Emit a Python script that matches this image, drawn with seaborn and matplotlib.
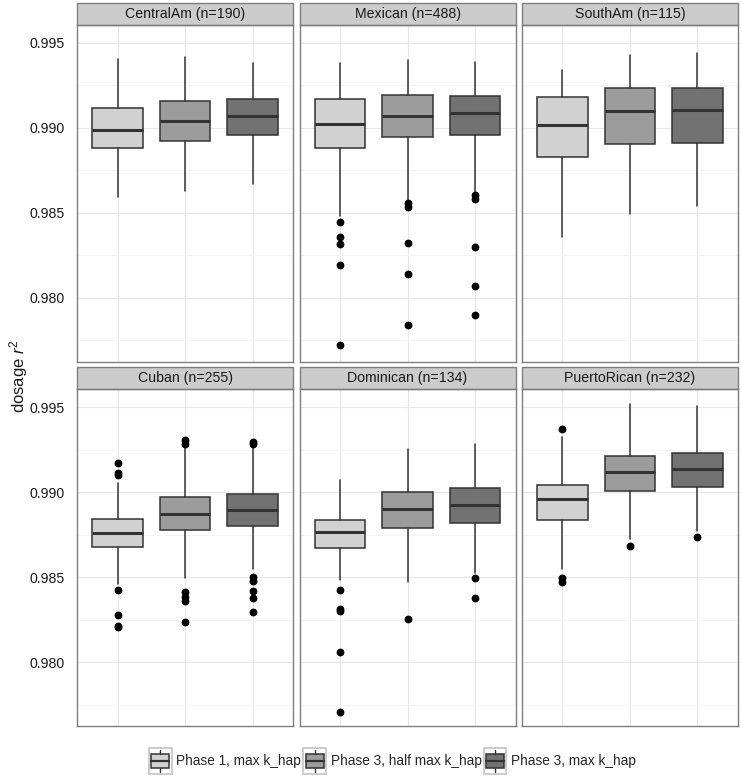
import numpy as np
import pandas as pd
import matplotlib
matplotlib.use("Agg")
import matplotlib.pyplot as plt
from matplotlib.patches import Rectangle
from matplotlib.lines import Line2D
from matplotlib.legend_handler import HandlerBase
import seaborn as sns

# Values (one row per population, one entry per imputation setting)
groups = ["CentralAm (n=190)", "Mexican (n=488)", "SouthAm (n=115)",
          "Cuban (n=255)", "Dominican (n=134)", "PuertoRican (n=232)"]
variants = ["Phase 1, max k_hap", "Phase 3, half max k_hap", "Phase 3, max k_hap"]
variant_colors = ["#D1D1D1", "#9C9C9C", "#727272"]

whisker_lo = [[0.98591, 0.98628, 0.98667],
              [0.98481, 0.98569, 0.98624],
              [0.98359, 0.98494, 0.98541],
              [0.98461, 0.98494, 0.98549],
              [0.98484, 0.98474, 0.98527],
              [0.98547, 0.98725, 0.98774]]
q1 = [[0.98879, 0.98920, 0.98957],
      [0.98882, 0.98945, 0.98959],
      [0.98829, 0.98906, 0.98912],
      [0.98678, 0.98778, 0.98804],
      [0.98674, 0.98788, 0.98821],
      [0.98835, 0.99008, 0.99031]]
median = [[0.98990, 0.99041, 0.99067],
          [0.99024, 0.99069, 0.99088],
          [0.99014, 0.99098, 0.99104],
          [0.98759, 0.98871, 0.98896],
          [0.98765, 0.98904, 0.98924],
          [0.98959, 0.99118, 0.99135]]
q3 = [[0.99114, 0.99157, 0.99169],
      [0.99167, 0.99196, 0.99188],
      [0.99181, 0.99235, 0.99234],
      [0.98845, 0.98971, 0.98988],
      [0.98837, 0.99000, 0.99027],
      [0.99043, 0.99214, 0.99229]]
whisker_hi = [[0.99408, 0.99418, 0.99379],
              [0.99379, 0.99398, 0.99388],
              [0.99343, 0.99428, 0.99438],
              [0.99053, 0.99259, 0.99268],
              [0.99072, 0.99253, 0.99284],
              [0.99324, 0.99518, 0.99508]]
outliers = [[[], [], []],
            [[0.98447, 0.98357, 0.98314, 0.98192, 0.97724],
             [0.98559, 0.98532, 0.98324, 0.98143, 0.97839],
             [0.98602, 0.98582, 0.98300, 0.98071, 0.97896]],
            [[], [], []],
            [[0.99171, 0.99112, 0.99102, 0.98425, 0.98278, 0.98215, 0.98206],
             [0.99308, 0.99284, 0.98412, 0.98386, 0.98361, 0.98235],
             [0.99298, 0.99286, 0.98500, 0.98478, 0.98419, 0.98380, 0.98294]],
            [[0.98423, 0.98312, 0.98300, 0.98059, 0.97710],
             [0.98253],
             [0.98496, 0.98376]],
            [[0.99371, 0.98498, 0.98474],
             [0.98684],
             [0.98735]]]

rows = []
for gi, grp in enumerate(groups):
    for vi, var in enumerate(variants):
        rows.append({"group": grp, "variant": var, "pos": vi,
                     "whislo": whisker_lo[gi][vi], "q1": q1[gi][vi], "med": median[gi][vi],
                     "q3": q3[gi][vi], "whishi": whisker_hi[gi][vi],
                     "fliers": outliers[gi][vi]})
df = pd.DataFrame(rows)

EDGE = "#333333"
BORDER = "#7F7F7F"
TEXT = "#1A1A1A"


def draw_boxes(data, **kwargs):
    ax = plt.gca()
    stats = [{"whislo": r.whislo, "q1": r.q1, "med": r.med, "q3": r.q3,
              "whishi": r.whishi, "fliers": np.array(r.fliers)} for r in data.itertuples()]
    res = ax.bxp(stats, positions=data["pos"].tolist(), widths=0.75, patch_artist=True,
                 showcaps=False, manage_ticks=False, zorder=3,
                 boxprops=dict(edgecolor=EDGE, linewidth=1.1),
                 medianprops=dict(color=EDGE, linewidth=2.2, solid_capstyle="butt"),
                 whiskerprops=dict(color=EDGE, linewidth=1.1),
                 flierprops=dict(marker="o", markerfacecolor="black",
                                 markeredgecolor="black", markersize=4.6))
    for box, p in zip(res["boxes"], data["pos"]):
        box.set_facecolor(variant_colors[p])


sns.set_theme(style="white")
plt.rcParams["font.family"] = ["Liberation Sans", "DejaVu Sans"]
plt.rcParams["mathtext.fontset"] = "custom"
plt.rcParams["mathtext.rm"] = "Liberation Sans"
plt.rcParams["mathtext.it"] = "Liberation Sans:italic"

g = sns.FacetGrid(df, col="group", col_order=groups, col_wrap=3, sharex=True,
                  sharey=True, despine=False, height=3.4, aspect=0.64)
g.map_dataframe(draw_boxes)
g.set_titles("")
g.set_axis_labels("", "")
g.figure.set_size_inches(7.42, 7.77)
g.figure.subplots_adjust(left=0.1038, right=0.9946, top=0.9678, bottom=0.0656,
                         wspace=0.030, hspace=0.083)

for ax, grp in zip(g.axes.flat, groups):
    ax.set_xlim(-0.6, 2.6)
    ax.set_ylim(0.97625, 0.99605)
    ax.set_xticks([0, 1, 2])
    ax.set_yticks([0.980, 0.985, 0.990, 0.995])
    ax.set_yticks([0.9775, 0.9825, 0.9875, 0.9925], minor=True)
    ax.grid(which="major", color="#E8E8E8", linewidth=0.8, zorder=0)
    ax.grid(which="minor", axis="y", color="#F4F4F4", linewidth=0.8, zorder=0)
    ax.set_axisbelow(True)
    ax.tick_params(axis="x", length=0, labelbottom=False)
    ax.tick_params(axis="y", which="both", length=0, pad=9, labelsize=10.2,
                   labelcolor=TEXT)
    ax.yaxis.set_major_formatter(matplotlib.ticker.FormatStrFormatter("%.3f"))
    for s in ax.spines.values():
        s.set_color(BORDER)
        s.set_linewidth(1.0)
    # facet strip
    strip_h = 22 / 336
    ax.add_patch(Rectangle((0, 1.0), 1, strip_h, transform=ax.transAxes, clip_on=False,
                           facecolor="#CCCCCC", edgecolor=BORDER, linewidth=1.0))
    ax.text(0.5, 1 + strip_h / 2, grp, transform=ax.transAxes, ha="center", va="center",
            fontsize=10.2, color=TEXT)

g.figure.text(0.025, 0.516, "dosage $r^2$", rotation=90, ha="center", va="center",
              fontsize=12, color=TEXT)


class BoxKeyHandler(HandlerBase):
    def create_artists(self, legend, orig_handle, xdescent, ydescent, width, height,
                       fontsize, trans):
        x0, y0 = -xdescent, -ydescent
        fc = orig_handle.get_facecolor()
        bg = Rectangle((x0, y0), width, height, facecolor="white", edgecolor="#CCCCCC",
                       linewidth=1.4, transform=trans)
        bx = Rectangle((x0 + 0.1 * width, y0 + 0.25 * height), 0.8 * width, 0.5 * height,
                       facecolor=fc, edgecolor=EDGE, linewidth=1.1, transform=trans)
        cx = x0 + width / 2
        med = Line2D([x0 + 0.1 * width, x0 + 0.9 * width], [y0 + height / 2] * 2,
                     color=EDGE, linewidth=1.6, transform=trans)
        w1 = Line2D([cx, cx], [y0 + 0.07 * height, y0 + 0.25 * height], color=EDGE,
                    linewidth=1.0, transform=trans)
        w2 = Line2D([cx, cx], [y0 + 0.75 * height, y0 + 0.93 * height], color=EDGE,
                    linewidth=1.0, transform=trans)
        return [bg, bx, med, w1, w2]


handles = [Rectangle((0, 0), 1, 1, facecolor=c) for c in variant_colors]
g.figure.legend(handles, variants, loc="center", bbox_to_anchor=(0.529, 0.0206), ncol=3,
                frameon=False, fontsize=9.8, handler_map={Rectangle: BoxKeyHandler()},
                handlelength=1.65, handleheight=2.6, handletextpad=0.35,
                columnspacing=0.15, borderaxespad=0)

g.figure.savefig("out.png", dpi=100)
